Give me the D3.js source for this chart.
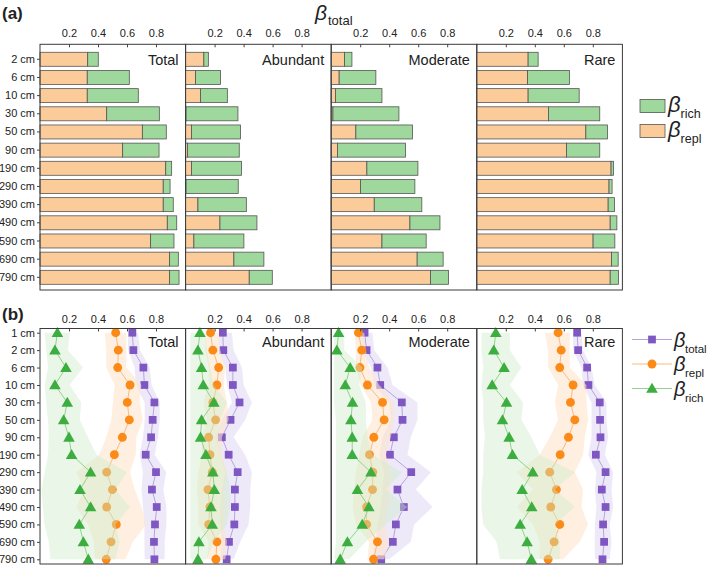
<!DOCTYPE html>
<html><head><meta charset="utf-8">
<script src="https://cdn.jsdelivr.net/npm/d3@7"></script>
<style>
body{margin:0;background:#fff}
svg{display:block}
text{font-family:"Liberation Sans",Arial,sans-serif;fill:#222}
</style>
</head><body>
<svg id="c" width="709" height="566"></svg>
<script>
// ---------------- DATA ----------------
const panelNames = ["Total", "Abundant", "Moderate", "Rare"];
const tickValues = [0.2, 0.4, 0.6, 0.8];
const tickLabels = ["0.2", "0.4", "0.6", "0.8"];

// Panel (a): stacked bars (β_repl + β_rich = β_total)
const depthsA = ["2 cm","6 cm","10 cm","30 cm","50 cm","90 cm","190 cm","290 cm","390 cm","490 cm","590 cm","690 cm","790 cm"];
const replTotal    = [0.329,0.326,0.326,0.460,0.706,0.570,0.867,0.850,0.850,0.878,0.763,0.894,0.894];
const richTotal    = [0.073,0.290,0.352,0.363,0.165,0.251,0.041,0.047,0.069,0.065,0.161,0.060,0.065];
const replAbundant = [0.126,0.069,0.103,0.003,0.041,0.014,0.041,0.003,0.085,0.237,0.057,0.333,0.439];
const richAbundant = [0.031,0.172,0.185,0.358,0.338,0.356,0.345,0.360,0.334,0.255,0.345,0.207,0.159];
const replModerate = [0.092,0.055,0.030,0.012,0.170,0.044,0.246,0.202,0.297,0.543,0.350,0.593,0.685];
const richModerate = [0.051,0.253,0.320,0.455,0.391,0.469,0.352,0.375,0.328,0.207,0.305,0.179,0.124];
const replRare     = [0.354,0.350,0.354,0.494,0.752,0.619,0.926,0.912,0.906,0.920,0.802,0.929,0.920];
const richRare     = [0.069,0.289,0.352,0.354,0.149,0.229,0.017,0.021,0.044,0.046,0.150,0.046,0.057];

// Panel (b): mean with band (lo–hi) per depth
const depthsB = ["1 cm","2 cm","6 cm","10 cm","30 cm","50 cm","90 cm","190 cm","290 cm","390 cm","490 cm","590 cm","690 cm","790 cm"];

// Total
const totTotal     = [0.637,0.644,0.713,0.720,0.789,0.777,0.766,0.729,0.800,0.772,0.805,0.793,0.786,0.789];
const totTotalLo   = [0.607,0.607,0.653,0.660,0.722,0.722,0.710,0.687,0.710,0.700,0.710,0.720,0.720,0.722];
const totTotalHi   = [0.676,0.690,0.756,0.770,0.826,0.826,0.814,0.791,0.871,0.850,0.871,0.871,0.860,0.860];
const replTotalB   = [0.522,0.540,0.536,0.621,0.602,0.616,0.568,0.513,0.460,0.499,0.460,0.526,0.490,0.457];
const replTotalLo  = [0.446,0.457,0.457,0.515,0.503,0.492,0.457,0.410,0.250,0.308,0.250,0.331,0.370,0.380];
const replTotalHi  = [0.595,0.595,0.595,0.699,0.687,0.710,0.664,0.660,0.620,0.653,0.700,0.733,0.640,0.590];
const richTotalB   = [0.120,0.103,0.179,0.103,0.188,0.163,0.200,0.218,0.349,0.276,0.349,0.271,0.299,0.333];
const richTotalLo  = [0.032,0.043,0.055,0.032,0.043,0.055,0.060,0.055,0.032,0.010,0.020,0.030,0.060,0.070];
const richTotalHi  = [0.205,0.193,0.297,0.205,0.285,0.274,0.331,0.390,0.600,0.520,0.620,0.520,0.550,0.520];
// Abundant
const totAbund     = [0.257,0.260,0.326,0.326,0.372,0.310,0.250,0.297,0.359,0.340,0.340,0.336,0.299,0.283];
const totAbundLo   = [0.228,0.228,0.274,0.285,0.320,0.250,0.205,0.239,0.274,0.250,0.239,0.239,0.250,0.239];
const totAbundHi   = [0.320,0.331,0.389,0.400,0.457,0.411,0.331,0.411,0.457,0.446,0.446,0.434,0.377,0.331];
const replAbundB   = [0.172,0.188,0.228,0.216,0.188,0.207,0.159,0.168,0.184,0.154,0.168,0.159,0.216,0.209];
const replAbundLo  = [0.136,0.136,0.159,0.159,0.124,0.147,0.113,0.113,0.089,0.078,0.089,0.089,0.159,0.147];
const replAbundHi  = [0.228,0.239,0.274,0.262,0.285,0.297,0.250,0.250,0.285,0.262,0.274,0.262,0.285,0.274];
const richAbundB   = [0.099,0.085,0.110,0.122,0.195,0.110,0.103,0.140,0.188,0.198,0.175,0.184,0.092,0.085];
const richAbundLo  = [0.032,0.032,0.032,0.032,0.032,0.032,0.032,0.032,0.032,0.032,0.032,0.032,0.032,0.032];
const richAbundHi  = [0.136,0.147,0.170,0.193,0.285,0.239,0.216,0.239,0.285,0.308,0.308,0.285,0.193,0.147];
// Moderate
const totModer     = [0.230,0.244,0.319,0.338,0.487,0.492,0.432,0.405,0.552,0.457,0.501,0.446,0.425,0.345];
const totModerLo   = [0.205,0.216,0.274,0.297,0.400,0.411,0.354,0.331,0.366,0.354,0.343,0.320,0.308,0.285];
const totModerHi   = [0.285,0.297,0.389,0.423,0.595,0.595,0.549,0.526,0.687,0.584,0.699,0.572,0.549,0.400];
const replModerB   = [0.188,0.211,0.198,0.250,0.354,0.365,0.294,0.264,0.287,0.285,0.244,0.244,0.319,0.292];
const replModerLo  = [0.159,0.170,0.170,0.205,0.274,0.285,0.216,0.193,0.170,0.159,0.147,0.170,0.262,0.250];
const replModerHi  = [0.228,0.239,0.262,0.331,0.434,0.434,0.411,0.377,0.411,0.411,0.389,0.366,0.400,0.366];
const richModerB   = [0.051,0.039,0.131,0.097,0.147,0.136,0.145,0.145,0.274,0.181,0.260,0.214,0.112,0.062];
const richModerLo  = [0.020,0.020,0.020,0.020,0.020,0.032,0.032,0.032,0.032,0.032,0.032,0.032,0.032,0.020];
const richModerHi  = [0.090,0.090,0.216,0.193,0.239,0.239,0.250,0.285,0.490,0.377,0.525,0.377,0.239,0.124];
// Rare
const totRare      = [0.692,0.699,0.761,0.770,0.848,0.850,0.853,0.821,0.888,0.862,0.888,0.871,0.878,0.867];
const totRareLo    = [0.664,0.664,0.722,0.733,0.791,0.791,0.791,0.768,0.825,0.814,0.825,0.814,0.814,0.814];
const totRareHi    = [0.722,0.733,0.791,0.814,0.894,0.894,0.906,0.883,0.940,0.929,0.940,0.917,0.929,0.917];
const replRareB    = [0.561,0.582,0.572,0.664,0.646,0.676,0.632,0.575,0.503,0.549,0.510,0.572,0.533,0.492];
const replRareLo   = [0.469,0.492,0.492,0.561,0.538,0.561,0.503,0.434,0.274,0.388,0.274,0.388,0.434,0.434];
const replRareHi   = [0.641,0.641,0.641,0.756,0.756,0.768,0.745,0.733,0.676,0.733,0.722,0.768,0.710,0.595];
const richRareB    = [0.131,0.117,0.188,0.106,0.205,0.177,0.223,0.246,0.386,0.313,0.379,0.299,0.347,0.376];
const richRareLo   = [0.032,0.032,0.044,0.032,0.044,0.044,0.055,0.044,0.044,0.032,0.032,0.044,0.136,0.159];
const richRareHi   = [0.228,0.228,0.308,0.228,0.320,0.308,0.377,0.434,0.676,0.538,0.676,0.538,0.572,0.572];

// ---------------- BUILD ----------------
const barData = [
  {repl: replTotal, rich: richTotal},
  {repl: replAbundant, rich: richAbundant},
  {repl: replModerate, rich: richModerate},
  {repl: replRare, rich: richRare}
];
const lineData = [
  [{m: totTotal, lo: totTotalLo, hi: totTotalHi}, {m: replTotalB, lo: replTotalLo, hi: replTotalHi}, {m: richTotalB, lo: richTotalLo, hi: richTotalHi}],
  [{m: totAbund, lo: totAbundLo, hi: totAbundHi}, {m: replAbundB, lo: replAbundLo, hi: replAbundHi}, {m: richAbundB, lo: richAbundLo, hi: richAbundHi}],
  [{m: totModer, lo: totModerLo, hi: totModerHi}, {m: replModerB, lo: replModerLo, hi: replModerHi}, {m: richModerB, lo: richModerLo, hi: richModerHi}],
  [{m: totRare, lo: totRareLo, hi: totRareHi}, {m: replRareB, lo: replRareLo, hi: replRareHi}, {m: richRareB, lo: richRareLo, hi: richRareHi}]
];

const seriesStyle = [
  {band: "#e2daf5", bandOp: 0.6, line: "#b7a3de", mark: "#7e57c2", sym: d3.symbolSquare, size: 60},
  {band: "#fde4cb", bandOp: 0.6, line: "#f9bb82", mark: "#fb8a17", sym: d3.symbolCircle, size: 62},
  {band: "#cdedc8", bandOp: 0.42, line: "#93d18e", mark: "#3cae3f", sym: d3.symbolTriangle, size: 58}
];

const FONT = '"Liberation Sans",Arial,sans-serif';
const svg = d3.select("#c");
const PW = 145.6;
const lefts = panelNames.map((d, i) => 40 + i * PW);
const xs = lefts.map(L => d3.scaleLinear().domain([0, 1]).range([L, L + 145]));

const BAR_GREEN = "#9fd89c", BAR_ORANGE = "#fccb9a", EDGE = "#555";

function styleAxis(g) {
  g.select(".domain").remove();
  g.selectAll("text").attr("font-size", 11).attr("fill", "#333").attr("font-family", FONT);
  g.selectAll("line").attr("stroke", "#444");
}

// ---- Panel (a) ----
const aTop = 44.3, aBot = 290;
const yA = d3.scaleBand().domain(depthsA).range([50.2, 286.4]).paddingInner(0.23).paddingOuter(0.115);

svg.append("text").attr("x", 2).attr("y", 19).attr("font-size", 17).attr("font-weight", "bold").text("(a)");
const ttl = svg.append("text").attr("x", 315).attr("y", 20).attr("font-size", 21).attr("font-style", "italic");
ttl.append("tspan").text("β");
ttl.append("tspan").attr("font-size", 13).attr("font-style", "normal").attr("dy", 5).attr("dx", 1).text("total");

const stack = d3.stack().keys(["repl", "rich"]);

panelNames.forEach((name, i) => {
  const x = xs[i];
  const rows = depthsA.map((d, k) => ({depth: d, repl: barData[i].repl[k], rich: barData[i].rich[k]}));
  const layers = stack(rows);
  const g = svg.append("g");
  layers.forEach((layer, li) => {
    g.selectAll(null).data(layer).join("rect")
      .attr("x", d => x(d[0]))
      .attr("y", d => yA(d.data.depth))
      .attr("width", d => Math.max(0, x(d[1]) - x(d[0])))
      .attr("height", yA.bandwidth())
      .attr("fill", li === 0 ? BAR_ORANGE : BAR_GREEN)
      .attr("stroke", EDGE).attr("stroke-width", 0.8);
  });
  const ax = d3.axisTop(x).tickValues(tickValues).tickFormat((d, k) => tickLabels[k]).tickSizeInner(-3).tickSizeOuter(0).tickPadding(7);
  svg.append("g").attr("transform", `translate(0,${aTop})`).call(ax).call(styleAxis);
  svg.append("rect").attr("x", lefts[i]).attr("y", aTop).attr("width", PW).attr("height", aBot - aTop)
    .attr("fill", "none").attr("stroke", "#3a3a3a").attr("stroke-width", 1);
  svg.append("text").attr("x", lefts[i] + PW - 7).attr("y", 65).attr("text-anchor", "end").attr("font-size", 14.5).text(name);
});
svg.append("g").attr("transform", `translate(${lefts[0]},0)`)
  .call(d3.axisLeft(yA).tickSizeInner(3).tickSizeOuter(0).tickPadding(2)).call(styleAxis);

// legend (a)
[[BAR_GREEN, "rich", 99.5], [BAR_ORANGE, "repl", 124.5]].forEach(([c, sub, y]) => {
  svg.append("rect").attr("x", 640).attr("y", y).attr("width", 25).attr("height", 13).attr("fill", c).attr("stroke", EDGE).attr("stroke-width", 0.8);
  const t = svg.append("text").attr("x", 668).attr("y", y + 12).attr("font-size", 22).attr("font-style", "italic");
  t.append("tspan").text("β");
  t.append("tspan").attr("font-size", 12.5).attr("font-style", "normal").attr("dy", 6).attr("dx", 0).text(sub);
});

// ---- Panel (b) ----
const bTop = 328.5, bBot = 564;
const yB = d3.scalePoint().domain(depthsB).range([332.7, 559.3]);
svg.append("text").attr("x", 2).attr("y", 320).attr("font-size", 17).attr("font-weight", "bold").text("(b)");

panelNames.forEach((name, i) => {
  const x = xs[i];
  const g = svg.append("g");
  lineData[i].forEach((s, si) => {
    const st = seriesStyle[si];
    const pts = depthsB.map((d, k) => ({depth: d, m: s.m[k], lo: s.lo[k], hi: s.hi[k]}));
    g.append("path").datum(pts)
      .attr("d", d3.area().x0(d => x(d.lo)).x1(d => x(d.hi)).y(d => yB(d.depth)))
      .attr("fill", st.band).attr("fill-opacity", st.bandOp);
    g.append("path").datum(pts)
      .attr("d", d3.line().x(d => x(d.m)).y(d => yB(d.depth)))
      .attr("fill", "none").attr("stroke", st.line).attr("stroke-width", 1);
    g.selectAll(null).data(pts).join("path")
      .attr("transform", d => `translate(${x(d.m)},${yB(d.depth) + (si === 2 ? 1 : 0)})`)
      .attr("d", d3.symbol().type(st.sym).size(st.size))
      .attr("fill", st.mark);
  });
  const ax = d3.axisTop(x).tickValues(tickValues).tickFormat((d, k) => tickLabels[k]).tickSizeInner(-3).tickSizeOuter(0).tickPadding(6);
  svg.append("g").attr("transform", `translate(0,${bTop})`).call(ax).call(styleAxis);
  svg.append("rect").attr("x", lefts[i]).attr("y", bTop).attr("width", PW).attr("height", bBot - bTop)
    .attr("fill", "none").attr("stroke", "#3a3a3a").attr("stroke-width", 1);
  svg.append("text").attr("x", lefts[i] + PW - 7).attr("y", 347).attr("text-anchor", "end").attr("font-size", 14.5).text(name);
});
svg.append("g").attr("transform", `translate(${lefts[0]},0)`)
  .call(d3.axisLeft(yB).tickSizeInner(3).tickSizeOuter(0).tickPadding(2)).call(styleAxis);

// legend (b)
const legB = [["total", 339.5], ["repl", 364], ["rich", 388.5]];
legB.forEach(([sub, y], si) => {
  const st = seriesStyle[si];
  svg.append("line").attr("x1", 632).attr("x2", 672).attr("y1", y).attr("y2", y).attr("stroke", st.line).attr("stroke-width", 1.2);
  svg.append("path").attr("transform", `translate(652,${y + (si === 2 ? 1 : 0)})`).attr("d", d3.symbol().type(st.sym).size(st.size)).attr("fill", st.mark);
  const t = svg.append("text").attr("x", 674).attr("y", y + 7).attr("font-size", 20).attr("font-style", "italic");
  t.append("tspan").text("β");
  t.append("tspan").attr("font-size", 11.5).attr("font-style", "normal").attr("dy", 6).attr("dx", -0.5).text(sub);
});
</script>
</body></html>
